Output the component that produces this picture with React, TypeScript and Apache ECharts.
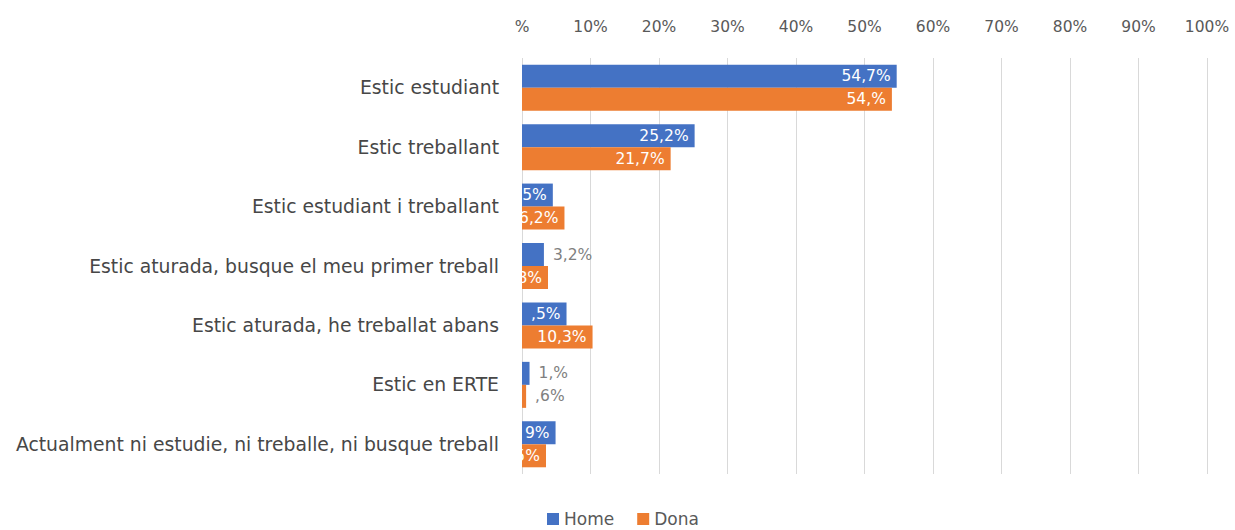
import React, { useEffect, useRef } from "react";
import * as echarts from "echarts";

const categories = [
  "Estic estudiant",
  "Estic treballant",
  "Estic estudiant i treballant",
  "Estic aturada, busque el meu primer treball",
  "Estic aturada, he treballat abans",
  "Estic en ERTE",
  "Actualment ni estudie, ni treballe, ni busque treball",
];
const homeValues = [54.7, 25.2, 4.5, 3.2, 6.5, 1.1, 4.9];
const donaValues = [54.0, 21.7, 6.2, 3.8, 10.3, 0.6, 3.5];
const homeLabels = ["54,7%", "25,2%", "5%", "3,2%", ",5%", "1,%", "9%"];
const donaLabels = ["54,%", "21,7%", "6,2%", "8%", "10,3%", ",6%", ",5%"];
const homeOutside = [false, false, false, true, false, true, false];
const donaOutside = [false, false, false, false, false, true, false];
const tickLabels = ["%", "10%", "20%", "30%", "40%", "50%", "60%", "70%", "80%", "90%", "100%"];

const FONT = "'DejaVu Sans', sans-serif";

function buildData(values: number[], labels: string[], outside: boolean[]) {
  return values.map((v, i) => ({
    value: v,
    label: outside[i]
      ? { show: true, position: "right", distance: 9, color: "#7f7f7f", formatter: labels[i] }
      : { show: true, position: "insideRight", distance: 6, color: "#ffffff", formatter: labels[i] },
  }));
}

export default function App() {
  const ref = useRef<HTMLDivElement>(null);
  useEffect(() => {
    document.body.style.margin = "0";
    const chart = echarts.init(ref.current!, null, { renderer: "svg" });
    chart.setOption({
      animation: false,
      textStyle: { fontFamily: FONT },
      grid: { left: 522, right: 28, top: 58, bottom: 56 },
      xAxis: {
        type: "value",
        position: "top",
        min: 0,
        max: 100,
        interval: 10,
        axisLine: { show: false },
        axisTick: { show: false },
        axisLabel: {
          margin: 23,
          fontSize: 15.5,
          color: "#595959",
          fontFamily: FONT,
          formatter: (v: number) => tickLabels[Math.round(v / 10)],
        },
        splitLine: { show: true, lineStyle: { color: "#d9d9d9", width: 1 } },
      },
      yAxis: {
        type: "category",
        data: categories,
        inverse: true,
        axisLine: { show: false },
        axisTick: { show: false },
        axisLabel: { margin: 23, fontSize: 18.8, color: "#474747", fontFamily: FONT },
      },
      legend: {
        left: 547,
        top: 510,
        icon: "rect",
        itemWidth: 12,
        itemHeight: 12,
        itemGap: 23,
        padding: 0,
        textStyle: { fontSize: 17, lineHeight: 18, color: "#595959", fontFamily: FONT },
        data: ["Home", "Dona"],
      },
      series: [
        {
          name: "Home",
          type: "bar",
          barWidth: 23,
          barGap: "0%",
          itemStyle: { color: "#4472C4" },
          label: { fontSize: 15.5, fontFamily: FONT },
          data: buildData(homeValues, homeLabels, homeOutside),
        },
        {
          name: "Dona",
          type: "bar",
          barWidth: 23,
          barGap: "0%",
          itemStyle: { color: "#ED7D31" },
          label: { fontSize: 15.5, fontFamily: FONT },
          data: buildData(donaValues, donaLabels, donaOutside),
        },
      ],
    });
    return () => chart.dispose();
  }, []);
  return <div ref={ref} style={{ width: 1235, height: 530 }} />;
}
